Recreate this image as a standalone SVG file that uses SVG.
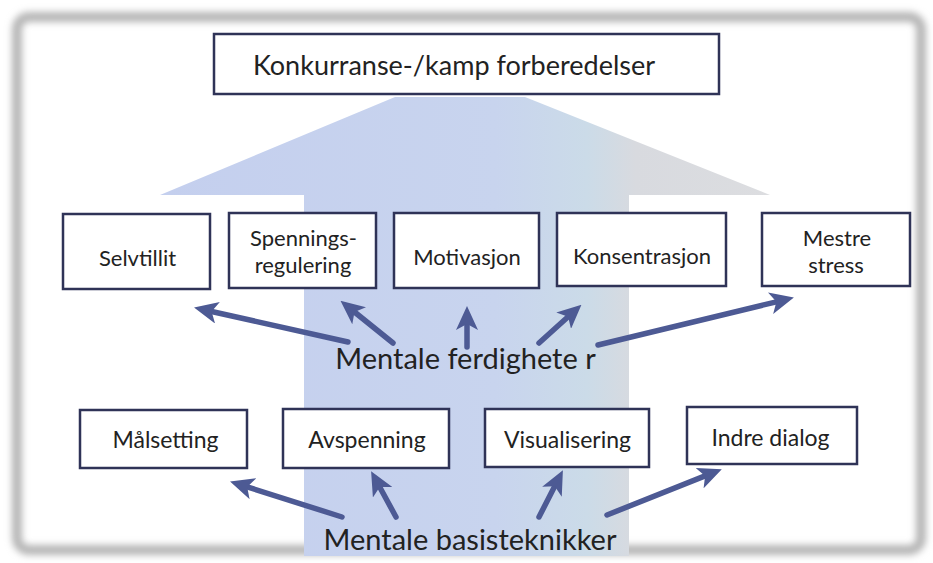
<svg xmlns="http://www.w3.org/2000/svg" width="933" height="563" viewBox="0 0 933 563">
<defs>
<style>
.box{fill:#ffffff;stroke:#2f3357;stroke-width:2.5}
.t{font-family:Lato,"Open Sans","Liberation Sans",sans-serif;fill:#222;text-anchor:middle}
.s2{font-size:22px}
.s3{font-size:23px}
.big{font-size:29px}
.arr{stroke:#4d5a94;stroke-width:5.5;fill:none;marker-end:url(#head);stroke-linecap:round}
</style>
<marker id="head" viewBox="0 0 24 22" markerWidth="24" markerHeight="22" refX="6" refY="11" orient="auto" markerUnits="userSpaceOnUse">
<path d="M0,0 L24,11 L0,22 L6,11 z" fill="#4d5a94"/>
</marker>
<filter id="blur" x="-5%" y="-5%" width="110%" height="110%"><feGaussianBlur stdDeviation="3.5"/></filter>
<linearGradient id="ag" x1="160" y1="0" x2="770" y2="0" gradientUnits="userSpaceOnUse">
<stop offset="0" stop-color="#c4cfee"/>
<stop offset="0.55" stop-color="#c8d4ee"/>
<stop offset="0.7" stop-color="#cbdbe8"/>
<stop offset="0.78" stop-color="#d8dadf"/>
<stop offset="1" stop-color="#dcdde0"/>
</linearGradient>
</defs>
<rect width="933" height="563" fill="#ffffff"/>
<rect x="17" y="17" width="904" height="533" rx="12" fill="none" stroke="#b5b5b5" stroke-width="10" filter="url(#blur)"/>
<polygon id="bigArrow" points="304,556 304,195 160,195 395,97 525,97 770,195 629,195 629,556" fill="url(#ag)"/>

<g id="node-top"><rect class="box" x="214" y="34" width="505" height="60"/><text class="t" x="454" y="75" font-size="27">Konkurranse-/kamp forberedelser</text></g>

<g id="node-selvtillit"><rect class="box" x="63" y="214" width="147" height="75"/><text class="t s2" x="137.5" y="266">Selvtillit</text></g>
<g id="node-spenning"><rect class="box" x="229" y="213" width="147" height="75"/><text class="t s2" x="303.5" y="246">Spennings-</text><text class="t s2" x="303" y="273">regulering</text></g>
<g id="node-motivasjon"><rect class="box" x="394" y="213" width="145" height="75"/><text class="t s2" x="467" y="265">Motivasjon</text></g>
<g id="node-konsentrasjon"><rect class="box" x="557" y="213" width="169" height="73"/><text class="t s2" x="642" y="264">Konsentrasjon</text></g>
<g id="node-mestre"><rect class="box" x="762" y="213" width="148" height="73"/><text class="t s2" x="837" y="246">Mestre</text><text class="t s2" x="836" y="273">stress</text></g>

<g id="node-ferdigheter"><text class="t big" x="465.5" y="369">Mentale ferdighete r</text></g>

<g id="node-malsetting"><rect class="box" x="80" y="410" width="167" height="58"/><text class="t s3" x="165.5" y="448">Målsetting</text></g>
<g id="node-avspenning"><rect class="box" x="283" y="409" width="166" height="59"/><text class="t s3" x="367" y="448">Avspenning</text></g>
<g id="node-visualisering"><rect class="box" x="485" y="409" width="164" height="58"/><text class="t s3" x="567.5" y="448">Visualisering</text></g>
<g id="node-indre"><rect class="box" x="687" y="407" width="170" height="57"/><text class="t s3" x="770.5" y="446">Indre dialog</text></g>

<g id="node-basis"><text class="t big" x="470" y="550">Mentale basisteknikker</text></g>

<g id="connectors">
<line class="arr" x1="348" y1="342" x2="211.6" y2="311.5"/>
<line class="arr" x1="393" y1="343" x2="354.5" y2="312"/>
<line class="arr" x1="467" y1="347" x2="467" y2="324"/>
<line class="arr" x1="539" y1="343" x2="568.1" y2="316.7"/>
<line class="arr" x1="598" y1="345" x2="776.4" y2="301.8"/>
<line class="arr" x1="342" y1="517" x2="247.2" y2="486.9"/>
<line class="arr" x1="396" y1="517" x2="379.7" y2="487"/>
<line class="arr" x1="539" y1="517" x2="554.7" y2="486.3"/>
<line class="arr" x1="607" y1="515" x2="705.1" y2="475.9"/>
</g>
</svg>
